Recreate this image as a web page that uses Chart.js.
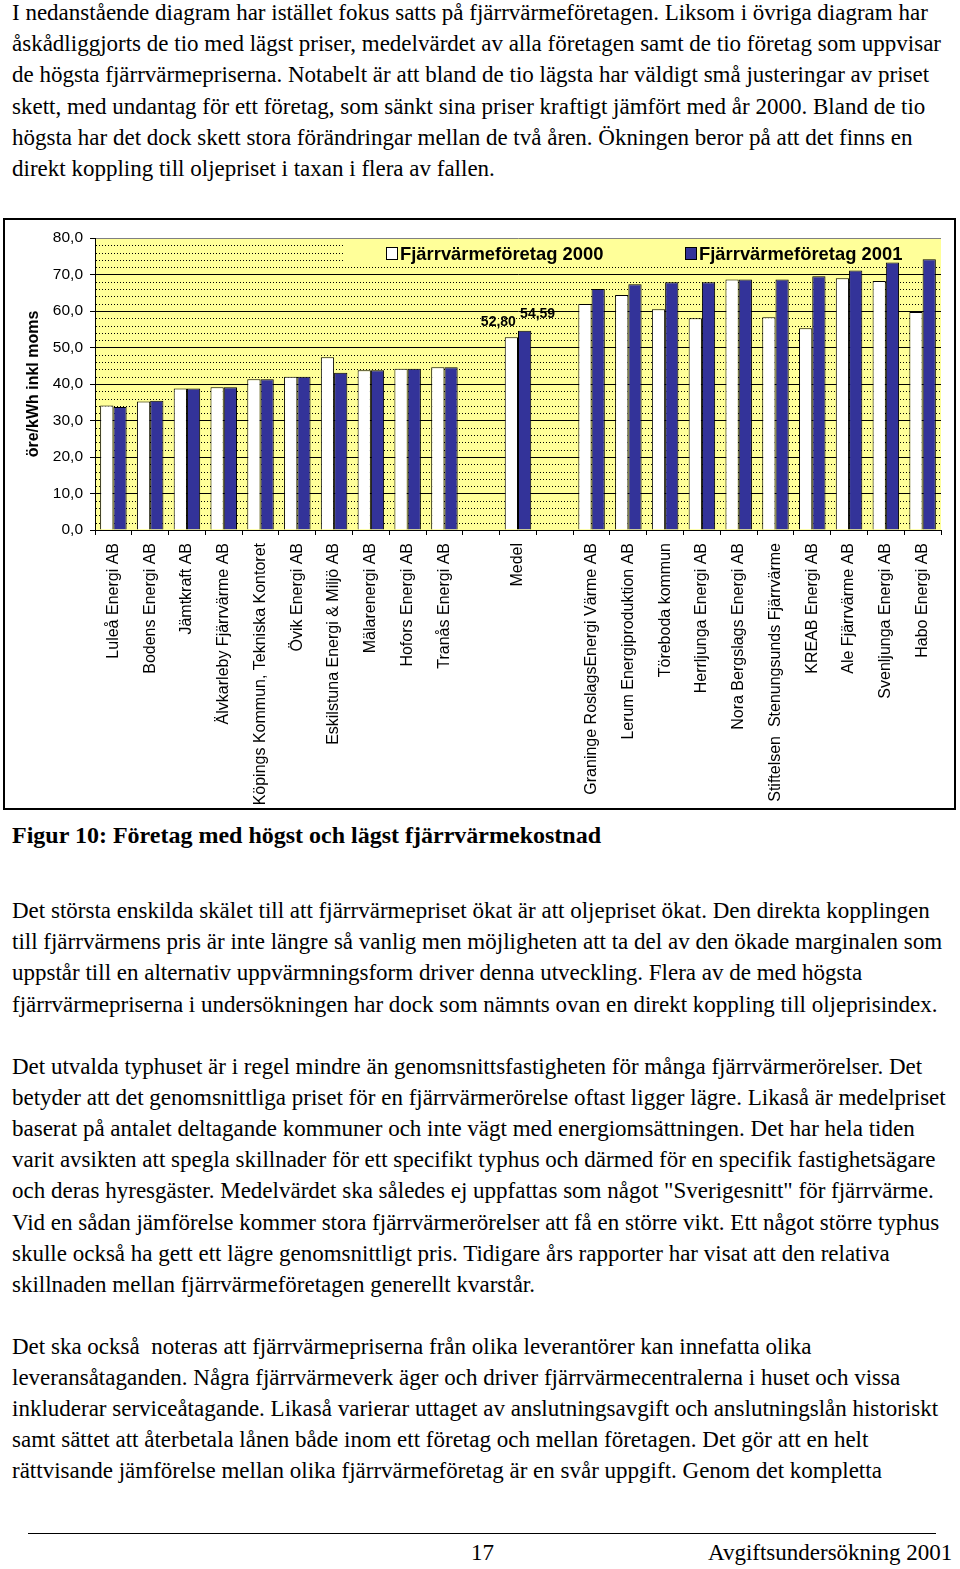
<!DOCTYPE html>
<html lang="sv">
<head>
<meta charset="utf-8">
<script src="https://cdn.jsdelivr.net/npm/chart.js@4"></script>
<style>
  html, body { margin: 0; padding: 0; background: #fff; }
  body { width: 960px; height: 1569px; position: relative; overflow: hidden; font-family: "Liberation Serif", "Times New Roman", serif; color: #000; }
  .ln { position: absolute; left: 12px; white-space: pre; font-size: 23px; line-height: 31px; }
  .cap { font-weight: bold; font-size: 24px; }
  #frame { position: absolute; left: 3px; top: 218px; width: 953px; height: 592px; border: 2px solid #000; box-sizing: border-box; }
  #chart { position: absolute; left: 5px; top: 220px; }
  #rule { position: absolute; left: 28px; top: 1533px; width: 908px; height: 0; border-top: 1px solid #000; }
  .foot { position: absolute; font-size: 23px; line-height: 26px; white-space: pre; }
</style>
</head>
<body>
<div id="text"></div>
<div id="frame"></div>
<canvas id="chart" width="949" height="588"></canvas>
<div id="rule"></div>
<div class="foot" style="left:471px; top:1540px;">17</div>
<div class="foot" style="left:708px; top:1540px;">Avgiftsundersökning 2001</div>
<script>
// ---- Data ----
const categories = [
  'Luleå Energi AB', 'Bodens Energi AB', 'Jämtkraft AB', 'Älvkarleby Fjärrvärme AB',
  'Köpings Kommun, Tekniska Kontoret', 'Övik Energi AB', 'Eskilstuna Energi & Miljö AB',
  'Mälarenergi AB', 'Hofors Energi AB', 'Tranås Energi AB', '', 'Medel', '',
  'Graninge RoslagsEnergi Värme AB', 'Lerum Energiproduktion AB', 'Töreboda kommun',
  'Herrljunga Energi AB', 'Nora Bergslags Energi AB', 'Stiftelsen  Stenungsunds Fjärrvärme',
  'KREAB Energi AB', 'Ale Fjärrvärme AB', 'Svenljunga Energi AB', 'Habo Energi AB'
];
const values2000 = [34.1, 35.2, 38.8, 39.1, 41.3, 42.0, 47.3, 43.8, 44.2, 44.6, null, 52.80, null,
  61.9, 64.4, 60.5, 58.0, 68.6, 58.3, 55.3, 69.0, 68.2, 59.7];
const values2001 = [33.7, 35.4, 38.8, 39.1, 41.3, 42.0, 43.1, 43.8, 44.2, 44.6, null, 54.59, null,
  66.0, 67.3, 67.9, 67.9, 68.6, 68.6, 69.5, 71.1, 73.3, 74.2];
const seriesNames = ['Fjärrvärmeföretag 2000', 'Fjärrvärmeföretag 2001'];
const labelledCategory = 'Medel';
const yTickValues = [0, 10, 20, 30, 40, 50, 60, 70, 80];
const yTitle = 'öre/kWh inkl moms';

// ---- Page text ----
const textLines = [
  [0, 'I nedanstående diagram har istället fokus satts på fjärrvärmeföretagen. Liksom i övriga diagram har'],
  [31.2, 'åskådliggjorts de tio med lägst priser, medelvärdet av alla företagen samt de tio företag som uppvisar'],
  [62.4, 'de högsta fjärrvärmepriserna. Notabelt är att bland de tio lägsta har väldigt små justeringar av priset'],
  [93.6, 'skett, med undantag för ett företag, som sänkt sina priser kraftigt jämfört med år 2000. Bland de tio'],
  [124.8, 'högsta har det dock skett stora förändringar mellan de två åren. Ökningen beror på att det finns en'],
  [156, 'direkt koppling till oljepriset i taxan i flera av fallen.'],
  [823, 'Figur 10: Företag med högst och lägst fjärrvärmekostnad', true],
  [898, 'Det största enskilda skälet till att fjärrvärmepriset ökat är att oljepriset ökat. Den direkta kopplingen'],
  [929.2, 'till fjärrvärmens pris är inte längre så vanlig men möjligheten att ta del av den ökade marginalen som'],
  [960.4, 'uppstår till en alternativ uppvärmningsform driver denna utveckling. Flera av de med högsta'],
  [991.6, 'fjärrvärmepriserna i undersökningen har dock som nämnts ovan en direkt koppling till oljeprisindex.'],
  [1053.5, 'Det utvalda typhuset är i regel mindre än genomsnittsfastigheten för många fjärrvärmerörelser. Det'],
  [1084.7, 'betyder att det genomsnittliga priset för en fjärrvärmerörelse oftast ligger lägre. Likaså är medelpriset'],
  [1115.9, 'baserat på antalet deltagande kommuner och inte vägt med energiomsättningen. Det har hela tiden'],
  [1147.1, 'varit avsikten att spegla skillnader för ett specifikt typhus och därmed för en specifik fastighetsägare'],
  [1178.3, 'och deras hyresgäster. Medelvärdet ska således ej uppfattas som något "Sverigesnitt" för fjärrvärme.'],
  [1209.5, 'Vid en sådan jämförelse kommer stora fjärrvärmerörelser att få en större vikt. Ett något större typhus'],
  [1240.7, 'skulle också ha gett ett lägre genomsnittligt pris. Tidigare års rapporter har visat att den relativa'],
  [1271.9, 'skillnaden mellan fjärrvärmeföretagen generellt kvarstår.'],
  [1333.5, 'Det ska också  noteras att fjärrvärmepriserna från olika leverantörer kan innefatta olika'],
  [1364.7, 'leveransåtaganden. Några fjärrvärmeverk äger och driver fjärrvärmecentralerna i huset och vissa'],
  [1395.9, 'inkluderar serviceåtagande. Likaså varierar uttaget av anslutningsavgift och anslutningslån historiskt'],
  [1427.1, 'samt sättet att återbetala lånen både inom ett företag och mellan företagen. Det gör att en helt'],
  [1458.3, 'rättvisande jämförelse mellan olika fjärrvärmeföretag är en svår uppgift. Genom det kompletta']
];
const textHost = document.getElementById('text');
textLines.forEach(([top, t, bold]) => {
  const d = document.createElement('div');
  d.className = 'ln' + (bold ? ' cap' : '');
  d.style.top = (top - 3) + 'px';
  d.textContent = t;
  textHost.appendChild(d);
});

// ---- Chart ----
const YELLOW = '#ffff99';
const NAVY = '#333399';
const fmt = v => v.toFixed(2).replace('.', ',');

const decorPlugin = {
  id: 'decor',
  beforeDraw(chart) {
    const {ctx, chartArea: a} = chart;
    ctx.save();
    ctx.fillStyle = YELLOW;
    ctx.fillRect(a.left, a.top, a.right - a.left, a.bottom - a.top);
    ctx.restore();
  },
  beforeDatasetsDraw(chart) {
    const {ctx, chartArea: a, scales: {y}} = chart;
    ctx.save();
    // minor dotted gridlines every 2 units
    ctx.strokeStyle = '#000';
    ctx.lineWidth = 1;
    ctx.setLineDash([1, 2]);
    for (let v = 2; v < 80; v += 2) {
      if (v % 10 === 0) continue;
      const py = Math.round(y.getPixelForValue(v)) + 0.5;
      ctx.beginPath();
      ctx.moveTo(a.left + 1, py);
      ctx.lineTo(a.right, py);
      ctx.stroke();
    }
    ctx.setLineDash([]);
    // legend band
    ctx.fillStyle = YELLOW;
    ctx.fillRect(338, a.top + 1, a.right - 338, 25);
    ctx.font = 'bold 18.4px "Liberation Sans", Arial, sans-serif';
    ctx.textBaseline = 'middle';
    const items = [[381, '#ffffff', seriesNames[0]], [680, NAVY, seriesNames[1]]];
    items.forEach(([x, c, t]) => {
      ctx.fillStyle = c;
      ctx.fillRect(x + 0.5, 27.5, 11, 12);
      ctx.strokeStyle = '#000';
      ctx.lineWidth = 1;
      ctx.strokeRect(x + 0.5, 27.5, 11, 12);
      ctx.fillStyle = '#000';
      ctx.fillText(t, x + 14, 35);
    });
    ctx.restore();
  },
  afterDatasetsDraw(chart) {
    const {ctx} = chart;
    const idx = categories.indexOf(labelledCategory);
    ctx.save();
    ctx.font = 'bold 14px "Liberation Sans", Arial, sans-serif';
    ctx.fillStyle = '#000';
    ctx.textAlign = 'center';
    ctx.textBaseline = 'bottom';
    chart.data.datasets.forEach((ds, di) => {
      const bar = chart.getDatasetMeta(di).data[idx];
      if (!bar) return;
      const dx = di === 0 ? -13 : 13;
      const dy = di === 0 ? 8 : 10;
      ctx.fillText(fmt(ds.data[idx]), bar.x + dx, bar.y - dy);
    });
    ctx.restore();
  }
};

Chart.defaults.font.family = '"Liberation Sans", Arial, sans-serif';
Chart.defaults.color = '#000';

new Chart(document.getElementById('chart'), {
  type: 'bar',
  data: {
    labels: categories,
    datasets: [
      { label: seriesNames[0], data: values2000, backgroundColor: '#ffffff', borderColor: '#000', borderWidth: 1 },
      { label: seriesNames[1], data: values2001, backgroundColor: NAVY, borderColor: '#000', borderWidth: 1 }
    ]
  },
  options: {
    responsive: false,
    devicePixelRatio: 1,
    animation: false,
    layout: { padding: { top: 18, right: 13, bottom: 0, left: 0 } },
    datasets: { bar: { categoryPercentage: 0.72, barPercentage: 1.0 } },
    plugins: { legend: { display: false }, tooltip: { enabled: false } },
    scales: {
      x: {
        afterFit: s => { s.height = 278; },
        grid: { display: true, drawOnChartArea: false, drawTicks: true, tickLength: 5, tickColor: '#000', offset: true },
        border: { display: true, color: '#000', width: 1 },
        ticks: { autoSkip: false, minRotation: 90, maxRotation: 90, padding: 8, font: { size: 16 }, color: '#000' }
      },
      y: {
        min: 0, max: 80,
        afterFit: s => { s.width = 90; },
        afterBuildTicks: s => { s.ticks = yTickValues.map(v => ({ value: v })); },
        grid: {
          color: c => (c.tick && c.tick.value === 80) ? '#808080' : '#000',
          lineWidth: 1, drawTicks: true, tickLength: 5, tickColor: '#000'
        },
        border: { display: true, color: '#000', width: 1 },
        ticks: { padding: 7, font: { size: 15.5 }, color: '#000', callback: v => v.toFixed(1).replace('.', ',') },
        title: { display: true, text: yTitle, font: { size: 16, weight: 'bold' }, color: '#000', padding: { top: 19, bottom: 0 } }
      }
    }
  },
  plugins: [decorPlugin]
});
</script>
</body>
</html>
